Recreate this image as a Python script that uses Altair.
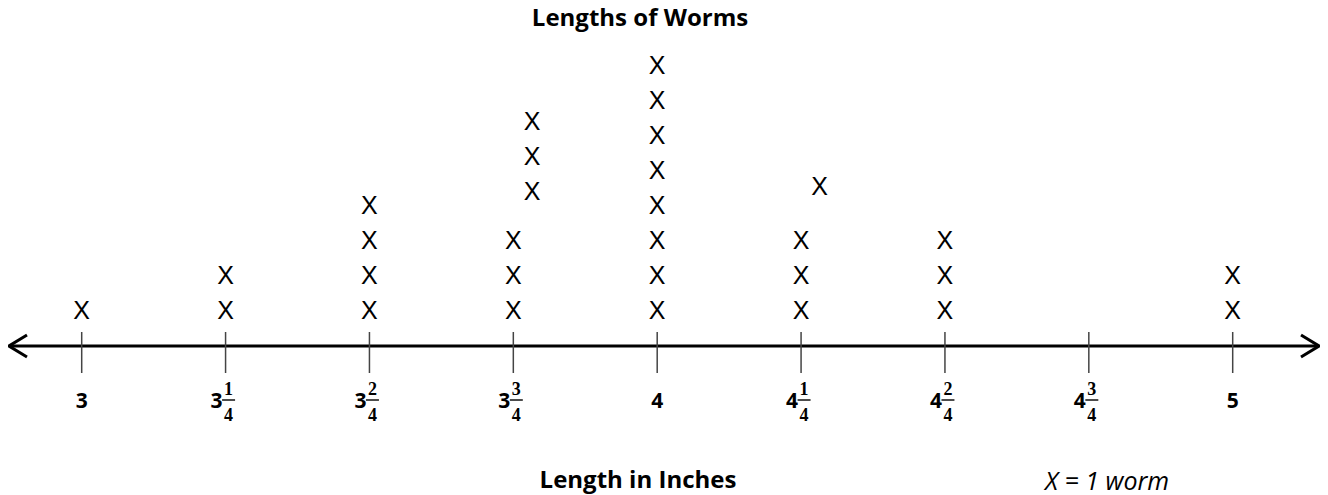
import altair as alt
import pandas as pd

# ---- data ----
tick_values = [3, 3.25, 3.5, 3.75, 4, 4.25, 4.5, 4.75, 5]
whole_labels = ["3", "3", "3", "3", "4", "4", "4", "4", "5"]
numerators = ["", "1", "2", "3", "", "1", "2", "3", ""]
denominators = ["", "4", "4", "4", "", "4", "4", "4", ""]
counts = [1, 2, 4, 3, 8, 3, 3, 0, 2]

# stray marks drawn slightly off their column in the original
stray_x = [3.7825, 3.7825, 3.7825, 4.282]
stray_level = [4.4, 5.4, 6.4, 4.54]

# ---- tables ----
rows = []
for v, c in zip(tick_values, counts):
    for k in range(1, c + 1):
        rows.append({"value": v, "level": float(k)})
for v, l in zip(stray_x, stray_level):
    rows.append({"value": v, "level": l})
marks_df = pd.DataFrame(rows)

labels_df = pd.DataFrame({
    "value": tick_values,
    "whole": whole_labels,
    "num": numerators,
    "den": denominators,
})
labels_df["frac"] = labels_df["num"] != ""
plain_df = labels_df[~labels_df["frac"]]
frac_df = labels_df[labels_df["frac"]]

W, H = 1312, 487
xscale = alt.Scale(domain=[2.87194, 5.15170], range=[0, W], nice=False, zero=False)
yscale = alt.Scale(domain=[-4.257, 9.657], range=[H, 0], nice=False, zero=False)

X = lambda: alt.X("value:Q", scale=xscale, axis=None)

xs = alt.Chart(marks_df).mark_text(
    text="X", font="Liberation Sans", fontSize=25, fontWeight="normal",
    color="black", baseline="middle", align="center"
).encode(x=X(), y=alt.Y("level:Q", scale=yscale, axis=None))

base_line = alt.Chart(pd.DataFrame({"lv": [0]})).mark_rule(
    color="black", strokeWidth=3
).encode(x=alt.value(2), x2=alt.value(1310),
         y=alt.Y("lv:Q", scale=yscale, axis=None))

arrows = alt.Chart(pd.DataFrame({"side": ["L", "R"], "px": [10, 1302]})).mark_point(
    filled=False, stroke="black", strokeWidth=3, size=484, opacity=1
).encode(
    x=alt.X("px:Q", scale=None),
    y=alt.value(338),
    shape=alt.Shape("side:N", scale=alt.Scale(
        domain=["L", "R"],
        range=["M 0.818 -1 L -0.818 0 L 0.818 1", "M -0.818 -1 L 0.818 0 L -0.818 1"]),
        legend=None),
)

ticks = alt.Chart(labels_df).mark_rule(color="#444444", strokeWidth=1.5).encode(
    x=X(), y=alt.value(324), y2=alt.value(365)
)

plain_text = alt.Chart(plain_df).mark_text(
    font="Open Sans", fontSize=21, fontWeight="bold", align="center",
    baseline="alphabetic", color="black"
).encode(x=X(), y=alt.value(400), text="whole:N")

whole_text = alt.Chart(frac_df).mark_text(
    font="Open Sans", fontSize=21, fontWeight="bold", align="right",
    baseline="alphabetic", color="black", dx=-3
).encode(x=X(), y=alt.value(400), text="whole:N")

num_text = alt.Chart(frac_df).mark_text(
    font="Liberation Serif", fontSize=18, fontWeight="bold", align="center",
    baseline="alphabetic", color="black", dx=3
).encode(x=X(), y=alt.value(387), text="num:N")

den_text = alt.Chart(frac_df).mark_text(
    font="Liberation Serif", fontSize=18, fontWeight="bold", align="center",
    baseline="alphabetic", color="black", dx=3
).encode(x=X(), y=alt.value(413), text="den:N")

frac_bar = alt.Chart(frac_df).mark_tick(
    color="black", thickness=2, size=13, orient="horizontal"
).encode(x=alt.X("value:Q", scale=xscale, axis=None), y=alt.value(392),
         xOffset=alt.value(3))

title_text = alt.Chart(pd.DataFrame({"t": ["Lengths of Worms"]})).mark_text(
    font="Open Sans", fontSize=24, fontWeight="bold", align="center",
    baseline="alphabetic", color="black"
).encode(x=alt.value(632), y=alt.value(18), text="t:N")

xtitle_text = alt.Chart(pd.DataFrame({"t": ["Length in Inches"]})).mark_text(
    font="Open Sans", fontSize=24, fontWeight="bold", align="center",
    baseline="alphabetic", color="black"
).encode(x=alt.value(630), y=alt.value(480), text="t:N")

key_text = alt.Chart(pd.DataFrame({"t": ["X = 1 worm"]})).mark_text(
    font="Open Sans", fontSize=25, fontStyle="italic", align="center",
    baseline="alphabetic", color="black"
).encode(x=alt.value(1099), y=alt.value(482), text="t:N")

chart = alt.layer(
    base_line, arrows, ticks, xs, plain_text, whole_text, num_text, den_text,
    frac_bar, title_text, xtitle_text, key_text
).properties(
    width=W, height=H, autosize=alt.AutoSizeParams(type="none"), padding=0,
    background="white"
).configure_view(stroke=None)

chart.save("out.html", embed_options={"renderer": "svg", "actions": False})
